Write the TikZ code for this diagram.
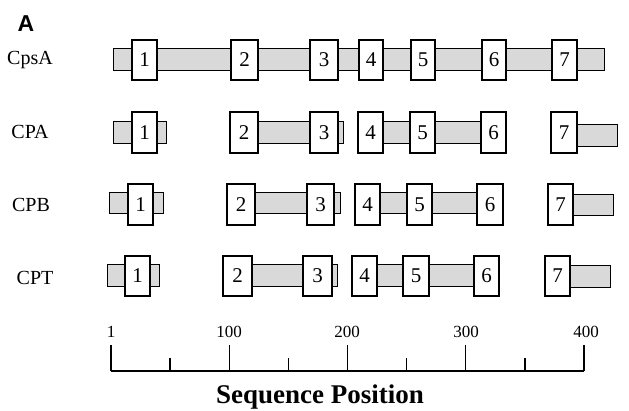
\documentclass[tikz,border=0pt]{standalone}
\usepackage{fontspec}
\setmainfont{Liberation Serif}
\newfontfamily\panelfont{Liberation Sans}
\usetikzlibrary{calc}
\begin{document}
\begin{tikzpicture}[x=1pt,y=-1pt,
  numbox/.style={draw=black,line width=1.3pt,fill=white,inner sep=0pt,
    font=\fontsize{21}{24}\selectfont},
  bar/.style={draw=black,line width=1pt,fill=black!15},
  rowlabel/.style={font=\fontsize{20}{24}\selectfont,inner sep=0pt},
  ticklabel/.style={font=\fontsize{17}{20}\selectfont,inner sep=0pt},
  axisline/.style={line width=1.4pt}]
\useasboundingbox (0,0) rectangle (629,411);

% panel letter
\node[font=\panelfont\bfseries\fontsize{23}{26}\selectfont,inner sep=0pt] (panel) at (26,24) {A};

% row labels
\node[rowlabel] (lcpsa) at (30,60) {CpsA};
\node[rowlabel] (lcpa) at (30,132) {CPA};
\node[rowlabel] (lcpb) at (31,205) {CPB};
\node[rowlabel] (lcpt) at (35,278) {CPT};

% ---- CpsA ----
\draw[bar] (113,49) rectangle (604,71);
\foreach \l/\a/\b in {1/132/157,2/231/258,3/310/338,4/359/383,5/411/435,6/482/506,7/552/577}
  \node[numbox,minimum width={(\b-\a)*1pt},minimum height=40pt] (a\l) at ({(\a+\b)/2},60) {\l};

% ---- CPA ----
\draw[bar] (113,122) rectangle (166,144);
\draw[bar] (258,122) rectangle (343,144);
\draw[bar] (383,122) rectangle (481,144);
\draw[bar] (577,125) rectangle (617,147);
\foreach \l/\a/\b in {1/132/157,2/230/258,3/310/338,4/358/383,5/410/435,6/481/506,7/551/577}
  \node[numbox,minimum width={(\b-\a)*1pt},minimum height=41pt] (b\l) at ({(\a+\b)/2},132.5) {\l};

% ---- CPB ----
\draw[bar] (109,193) rectangle (163,214);
\draw[bar] (255,193) rectangle (340,214);
\draw[bar] (380,193) rectangle (477,214);
\draw[bar] (573,195) rectangle (613,216);
\foreach \l/\a/\b in {1/128/153,2/227/255,3/307/334,4/355/380,5/407/432,6/477/503,7/548/573}
  \node[numbox,minimum width={(\b-\a)*1pt},minimum height=41pt] (c\l) at ({(\a+\b)/2},204.5) {\l};

% ---- CPT ----
\draw[bar] (107,265) rectangle (159,287);
\draw[bar] (252,265) rectangle (337,287);
\draw[bar] (377,265) rectangle (474,287);
\draw[bar] (570,266) rectangle (610,288);
\foreach \l/\a/\b in {1/125/150,2/223/252,3/303/332,4/352/377,5/403/429,6/474/499,7/545/570}
  \node[numbox,minimum width={(\b-\a)*1pt},minimum height=40pt] (d\l) at ({(\a+\b)/2},276) {\l};

% ---- axis ----
\coordinate (ax0) at (111,371);
\coordinate (ax1) at (584,371);
\draw[axisline] (ax0) -- (ax1);
\foreach \i in {0,2,4,6,8}
  \draw[axisline] ($(ax0)+(\i*59.125,0)$) -- ++(0,-26);
\foreach \i in {1,3,5,7}
  \draw[axisline] ($(ax0)+(\i*59.125,0)$) -- ++(0,-13);
\node[ticklabel] (t1) at (111,332) {1};
\node[ticklabel] (t100) at (229,332) {100};
\node[ticklabel] (t200) at (347,332) {200};
\node[ticklabel] (t300) at (466,332) {300};
\node[ticklabel] (t400) at (586,332) {400};
\node[font=\bfseries\fontsize{27}{30}\selectfont,inner sep=0pt,anchor=base] (title) at (320,403.5) {Sequence Position};
\end{tikzpicture}
\end{document}
